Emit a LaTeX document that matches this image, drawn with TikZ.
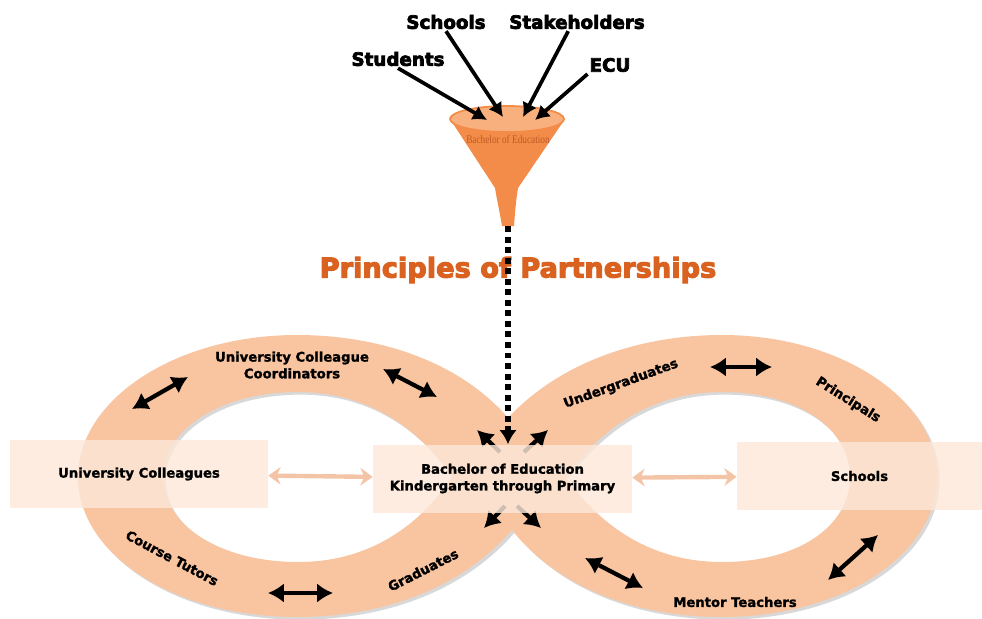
\documentclass[tikz,border=0pt]{standalone}
\usepackage{fontspec}
\setsansfont{DejaVu Sans}
\newfontfamily\heavyfont[BoldFeatures={FakeBold=4}]{DejaVu Sans}
\newfontfamily\labfont[BoldFeatures={FakeBold=1.6}]{DejaVu Sans}
\newfontfamily\funnelfont{Liberation Serif}
\usetikzlibrary{arrows.meta,shadows}
\definecolor{band}{RGB}{249,196,160}
\definecolor{boxfill}{RGB}{252,232,216}
\definecolor{funnel}{RGB}{242,140,72}
\definecolor{funneltop}{RGB}{247,176,126}
\definecolor{funneltext}{RGB}{190,90,40}
\definecolor{title}{RGB}{218,98,32}
\definecolor{lightarrow}{RGB}{244,196,166}

\begin{document}
\begin{tikzpicture}[x=0.02cm, y=-0.02cm,
  lbl/.style={font=\labfont\bfseries\fontsize{7.5}{9.5}\selectfont, align=center, inner sep=1pt},
  toplbl/.style={font=\heavyfont\bfseries\fontsize{10.4}{12}\selectfont, inner sep=1pt},
  panel/.style={lbl, fill=boxfill, fill opacity=0.82, text opacity=1, minimum height=1.36cm, inner sep=0pt},
  twoway/.style={line width=2.4pt, {Latex[length=9pt,width=11pt]}-{Latex[length=9pt,width=11pt]}},
  outward/.style={line width=2.4pt, -{Latex[length=9pt,width=11pt]}},
  feed/.style={line width=2.1pt, -{Latex[length=8pt,width=9pt]}},
  link/.style={line width=2.5pt, lightarrow, {Stealth[length=7pt,width=10pt]}-{Stealth[length=7pt,width=10pt]}}]

\useasboundingbox (0,0) rectangle (982,618);

% figure-eight band
\fill[band, drop shadow={shadow xshift=1.5pt, shadow yshift=-1.5pt, fill=black!30, opacity=0.5}]
  (508,418) .. controls (560,362) and (640,335) .. (722,335)
  .. controls (842,335) and (937,400) .. (937,477)
  .. controls (937,555) and (842,617) .. (722,617)
  .. controls (640,617) and (560,590) .. (512,530)
  .. controls (460,590) and (380,617) .. (297,617)
  .. controls (175,617) and (78,555) .. (78,477)
  .. controls (78,400) and (175,335) .. (297,335)
  .. controls (380,335) and (460,362) .. (508,418) -- cycle
  (565,477) .. controls (600,525) and (650,562) .. (722,562)
  .. controls (800,562) and (850,525) .. (850,477)
  .. controls (850,430) and (800,392) .. (722,392)
  .. controls (650,392) and (600,430) .. (565,477) -- cycle
  (452,477) .. controls (420,430) and (370,392) .. (298,392)
  .. controls (220,392) and (163,430) .. (163,477)
  .. controls (163,525) and (220,562) .. (298,562)
  .. controls (370,562) and (420,525) .. (452,477) -- cycle;

% arrows along the band
\foreach \n/\xa/\ya/\xb/\yb in {a/132/409/188/377, b/383/369/437/397,
    c/268/593/333/593, d/710/367/772/367, e/585/558/643/588, f/828/580/878/535}{
  \coordinate (\n1) at (\xa,\ya);
  \coordinate (\n2) at (\xb,\yb);
  \draw[twoway] (\n1) -- (\n2);
}

% arrows leaving the centre
\foreach \n/\xa/\ya/\xb/\yb in {ul/500/452/477/430, ur/524/452/548/430,
    ll/505/506/484/528, lr/517/506/541/528}{
  \coordinate (\n1) at (\xa,\ya);
  \coordinate (\n2) at (\xb,\yb);
  \draw[outward] (\n1) -- (\n2);
}

% boxes
\node[panel, minimum width=5.16cm] (uc) at (139,474) {University Colleagues};
\node[panel, minimum width=5.18cm] (bed) at (502.5,478.5) {Bachelor of Education\\Kindergarten through Primary};
\node[panel, minimum width=4.9cm] (sch2) at (859.5,476) {Schools};
\draw[link] (uc) -- (bed);
\draw[link] (bed) -- (sch2);

% labels on the band
\node[lbl] (ucc) at (292,365) {University Colleague\\Coordinators};
\node[lbl, rotate=-28] (ct) at (172,558) {Course Tutors};
\node[lbl, rotate=27] (gr) at (423,570) {Graduates};
\node[lbl, rotate=20] (ug) at (621,384) {Undergraduates};
\node[lbl, rotate=-32] (pr) at (848,400) {Principals};
\node[lbl] (mt) at (735,602) {Mentor Teachers};

% funnel
\fill[funnel] (450,119) -- (495,188) .. controls (497,200) and (500,214) .. (502,226)
  -- (514,226) .. controls (515,212) and (516,200) .. (518,188) -- (565,119) -- cycle;
\filldraw[fill=funneltop, draw=funnel, line width=1pt] (507,119) ellipse [x radius=57, y radius=13];
\node[font=\funnelfont\fontsize{6.6}{7}\selectfont, text=funneltext, inner sep=0pt, xscale=0.8] (ftxt) at (508,139) {Bachelor of Education};
\coordinate (spout) at (508,226);

\node[font=\heavyfont\bfseries\fontsize{15.5}{18}\selectfont, text=title] (pp) at (518,270) {Principles of Partnerships};

\draw[line width=3.4pt, dash pattern=on 3.4pt off 2.6pt, -{Latex[length=8pt,width=10pt]}] (spout) -- (spout |- bed.north);

% inputs
\node[toplbl] (stu) at (398,59) {Students};
\node[toplbl] (sch) at (446,22) {Schools};
\node[toplbl] (stk) at (577,22) {Stakeholders};
\node[toplbl] (ecu) at (610,65) {ECU};
\coordinate (m1) at (487,120);
\coordinate (m2) at (503,117);
\coordinate (m3) at (523,117);
\coordinate (m4) at (535,120);
\draw[feed] (stu.south) -- (m1);
\draw[feed] (sch.south) -- (m2);
\draw[feed] ([xshift=-5pt]stk.south) -- (m3);
\draw[feed] (ecu.south west) -- (m4);
\end{tikzpicture}
\end{document}
